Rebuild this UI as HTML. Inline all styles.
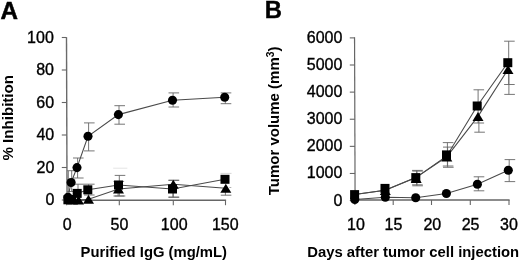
<!DOCTYPE html>
<html><head><meta charset="utf-8"><style>
html,body{margin:0;padding:0;background:#fff;}
svg{display:block;font-family:"Liberation Sans",sans-serif;will-change:transform;}
</style></head><body>
<svg width="520" height="262" viewBox="0 0 520 262">
<rect width="520" height="262" fill="#fff"/>
<line x1="66.50" y1="37.30" x2="67.05" y2="200.80" stroke="#6a6a6a" stroke-width="1.4"/>
<line x1="65.90" y1="200.30" x2="226.10" y2="200.30" stroke="#666" stroke-width="1.5"/>
<line x1="61.80" y1="200.00" x2="67.15" y2="200.00" stroke="#666" stroke-width="1.1"/>
<text x="54.53" y="205.40" font-size="16" text-anchor="end" stroke="#000" stroke-width="0.35">0</text>
<line x1="61.80" y1="167.50" x2="67.04" y2="167.50" stroke="#666" stroke-width="1.1"/>
<text x="54.39" y="172.90" font-size="16" text-anchor="end" stroke="#000" stroke-width="0.35">20</text>
<line x1="61.80" y1="135.00" x2="66.93" y2="135.00" stroke="#666" stroke-width="1.1"/>
<text x="54.24" y="140.40" font-size="16" text-anchor="end" stroke="#000" stroke-width="0.35">40</text>
<line x1="61.80" y1="102.50" x2="66.82" y2="102.50" stroke="#666" stroke-width="1.1"/>
<text x="54.09" y="107.90" font-size="16" text-anchor="end" stroke="#000" stroke-width="0.35">60</text>
<line x1="61.80" y1="70.00" x2="66.71" y2="70.00" stroke="#666" stroke-width="1.1"/>
<text x="53.95" y="75.40" font-size="16" text-anchor="end" stroke="#000" stroke-width="0.35">80</text>
<line x1="61.80" y1="37.50" x2="66.60" y2="37.50" stroke="#666" stroke-width="1.1"/>
<text x="53.80" y="42.90" font-size="16" text-anchor="end" stroke="#000" stroke-width="0.35">100</text>
<line x1="66.60" y1="200.30" x2="66.60" y2="205.20" stroke="#666" stroke-width="1.1"/>
<text x="67.30" y="229.70" font-size="16" text-anchor="middle" stroke="#000" stroke-width="0.35">0</text>
<line x1="119.30" y1="200.30" x2="119.30" y2="205.20" stroke="#666" stroke-width="1.1"/>
<text x="119.40" y="229.70" font-size="16" text-anchor="middle" stroke="#000" stroke-width="0.35">50</text>
<line x1="173.30" y1="200.30" x2="173.30" y2="205.20" stroke="#666" stroke-width="1.1"/>
<text x="174.20" y="229.70" font-size="16" text-anchor="middle" stroke="#000" stroke-width="0.35">100</text>
<line x1="225.50" y1="200.30" x2="225.50" y2="205.20" stroke="#666" stroke-width="1.1"/>
<text x="225.30" y="229.70" font-size="16" text-anchor="middle" stroke="#000" stroke-width="0.35">150</text>
<line x1="71.70" y1="170.70" x2="71.70" y2="191.50" stroke="#666" stroke-width="0.9"/>
<line x1="67.10" y1="170.70" x2="77.70" y2="170.70" stroke="#666" stroke-width="0.9"/>
<line x1="67.10" y1="191.50" x2="77.70" y2="191.50" stroke="#666" stroke-width="0.9"/>
<line x1="77.60" y1="158.00" x2="77.60" y2="178.00" stroke="#666" stroke-width="0.9"/>
<line x1="73.00" y1="158.00" x2="83.60" y2="158.00" stroke="#666" stroke-width="0.9"/>
<line x1="73.00" y1="178.00" x2="83.60" y2="178.00" stroke="#666" stroke-width="0.9"/>
<line x1="88.60" y1="122.90" x2="88.60" y2="150.90" stroke="#666" stroke-width="0.9"/>
<line x1="84.00" y1="122.90" x2="94.60" y2="122.90" stroke="#666" stroke-width="0.9"/>
<line x1="84.00" y1="150.90" x2="94.60" y2="150.90" stroke="#666" stroke-width="0.9"/>
<line x1="119.00" y1="105.70" x2="119.00" y2="124.20" stroke="#666" stroke-width="0.9"/>
<line x1="114.40" y1="105.70" x2="125.00" y2="105.70" stroke="#666" stroke-width="0.9"/>
<line x1="114.40" y1="124.20" x2="125.00" y2="124.20" stroke="#666" stroke-width="0.9"/>
<line x1="173.10" y1="92.90" x2="173.10" y2="107.00" stroke="#666" stroke-width="0.9"/>
<line x1="168.50" y1="92.90" x2="179.10" y2="92.90" stroke="#666" stroke-width="0.9"/>
<line x1="168.50" y1="107.00" x2="179.10" y2="107.00" stroke="#666" stroke-width="0.9"/>
<line x1="225.30" y1="92.90" x2="225.30" y2="103.70" stroke="#666" stroke-width="0.9"/>
<line x1="220.70" y1="92.90" x2="231.30" y2="92.90" stroke="#666" stroke-width="0.9"/>
<line x1="220.70" y1="103.70" x2="231.30" y2="103.70" stroke="#666" stroke-width="0.9"/>
<line x1="78.00" y1="184.20" x2="78.00" y2="193.40" stroke="#666" stroke-width="0.9"/>
<line x1="73.40" y1="184.20" x2="84.00" y2="184.20" stroke="#666" stroke-width="0.9"/>
<line x1="88.60" y1="184.20" x2="88.60" y2="195.00" stroke="#666" stroke-width="0.9"/>
<line x1="84.00" y1="184.20" x2="94.60" y2="184.20" stroke="#666" stroke-width="0.9"/>
<line x1="84.00" y1="195.00" x2="94.60" y2="195.00" stroke="#666" stroke-width="0.9"/>
<line x1="119.30" y1="175.40" x2="119.30" y2="196.00" stroke="#666" stroke-width="0.9"/>
<line x1="114.70" y1="175.40" x2="125.30" y2="175.40" stroke="#666" stroke-width="0.9"/>
<line x1="114.70" y1="196.00" x2="125.30" y2="196.00" stroke="#666" stroke-width="0.9"/>
<line x1="173.30" y1="180.30" x2="173.30" y2="197.20" stroke="#666" stroke-width="0.9"/>
<line x1="168.70" y1="180.30" x2="179.30" y2="180.30" stroke="#666" stroke-width="0.9"/>
<line x1="168.70" y1="197.20" x2="179.30" y2="197.20" stroke="#666" stroke-width="0.9"/>
<line x1="118.10" y1="181.40" x2="118.10" y2="196.00" stroke="#666" stroke-width="0.9"/>
<line x1="113.50" y1="181.40" x2="124.10" y2="181.40" stroke="#666" stroke-width="0.9"/>
<line x1="113.50" y1="196.00" x2="124.10" y2="196.00" stroke="#666" stroke-width="0.9"/>
<line x1="172.90" y1="180.30" x2="172.90" y2="197.20" stroke="#666" stroke-width="0.9"/>
<line x1="168.30" y1="180.30" x2="178.90" y2="180.30" stroke="#666" stroke-width="0.9"/>
<line x1="168.30" y1="197.20" x2="178.90" y2="197.20" stroke="#666" stroke-width="0.9"/>
<line x1="225.40" y1="188.30" x2="225.40" y2="195.20" stroke="#666" stroke-width="0.9"/>
<line x1="220.80" y1="195.20" x2="231.40" y2="195.20" stroke="#666" stroke-width="0.9"/>
<line x1="113.20" y1="168.20" x2="127.30" y2="168.20" stroke="#ddd" stroke-width="0.8"/>
<line x1="68.30" y1="171.00" x2="68.30" y2="192.00" stroke="#666" stroke-width="0.9"/>
<line x1="229.30" y1="187.50" x2="231.30" y2="187.50" stroke="#999" stroke-width="0.8"/>
<line x1="220.50" y1="173.40" x2="231.50" y2="173.40" stroke="#ccc" stroke-width="0.8"/>
<polyline points="68.00,197.20 71.10,182.50 77.00,167.60 88.00,136.30 118.40,114.60 172.50,100.20 224.70,97.20" fill="none" stroke="#4a4a4a" stroke-width="1.1"/>
<polyline points="67.90,199.80 71.50,199.50 77.20,193.40 87.80,189.80 118.50,185.00 172.50,189.00 225.00,179.30" fill="none" stroke="#4a4a4a" stroke-width="1.1"/>
<polyline points="72.50,200.00 78.50,200.00 88.50,199.20 118.50,189.00 173.30,184.30 225.80,188.30" fill="none" stroke="#4a4a4a" stroke-width="1.1"/>
<polygon points="72.50,195.50 78.00,204.50 67.00,204.50" fill="#000"/>
<polygon points="78.50,195.50 84.00,204.50 73.00,204.50" fill="#000"/>
<polygon points="88.50,194.70 94.00,203.70 83.00,203.70" fill="#000"/>
<polygon points="118.50,184.50 124.00,193.50 113.00,193.50" fill="#000"/>
<polygon points="173.30,179.80 178.80,188.80 167.80,188.80" fill="#000"/>
<polygon points="225.80,183.80 231.30,192.80 220.30,192.80" fill="#000"/>
<rect x="63.40" y="195.30" width="9" height="9" fill="#000"/>
<rect x="67.00" y="195.00" width="9" height="9" fill="#000"/>
<rect x="72.70" y="188.90" width="9" height="9" fill="#000"/>
<rect x="83.30" y="185.30" width="9" height="9" fill="#000"/>
<rect x="114.00" y="180.50" width="9" height="9" fill="#000"/>
<rect x="168.00" y="184.50" width="9" height="9" fill="#000"/>
<rect x="220.50" y="174.80" width="9" height="9" fill="#000"/>
<circle cx="68.00" cy="197.20" r="4.55" fill="#000"/>
<circle cx="71.10" cy="182.50" r="4.55" fill="#000"/>
<circle cx="77.00" cy="167.60" r="4.55" fill="#000"/>
<circle cx="88.00" cy="136.30" r="4.55" fill="#000"/>
<circle cx="118.40" cy="114.60" r="4.55" fill="#000"/>
<circle cx="172.50" cy="100.20" r="4.55" fill="#000"/>
<circle cx="224.70" cy="97.20" r="4.55" fill="#000"/>
<text x="0.50" y="19.00" font-size="24.2" text-anchor="start" font-weight="bold" stroke="#000" stroke-width="0.5">A</text>
<text x="80.50" y="256.50" font-size="14.5" text-anchor="start" font-weight="bold" textLength="146.5" lengthAdjust="spacingAndGlyphs">Purified IgG (mg/mL)</text>
<text transform="translate(12.5,160.5) rotate(-90)" font-size="15" font-weight="bold" textLength="85.5" lengthAdjust="spacingAndGlyphs">% Inhibition</text>
<line x1="354.55" y1="37.30" x2="355.10" y2="200.70" stroke="#666" stroke-width="1.2"/>
<line x1="354.30" y1="200.00" x2="509.60" y2="200.00" stroke="#666" stroke-width="1.4"/>
<line x1="349.80" y1="200.60" x2="355.16" y2="200.60" stroke="#666" stroke-width="1.1"/>
<text x="342.40" y="205.60" font-size="16" text-anchor="end" stroke="#000" stroke-width="0.35">0</text>
<line x1="349.80" y1="173.48" x2="355.06" y2="173.48" stroke="#666" stroke-width="1.1"/>
<text x="342.40" y="178.48" font-size="16" text-anchor="end" stroke="#000" stroke-width="0.35">1000</text>
<line x1="349.80" y1="146.36" x2="354.97" y2="146.36" stroke="#666" stroke-width="1.1"/>
<text x="342.40" y="151.36" font-size="16" text-anchor="end" stroke="#000" stroke-width="0.35">2000</text>
<line x1="349.80" y1="119.24" x2="354.88" y2="119.24" stroke="#666" stroke-width="1.1"/>
<text x="342.40" y="124.24" font-size="16" text-anchor="end" stroke="#000" stroke-width="0.35">3000</text>
<line x1="349.80" y1="92.12" x2="354.79" y2="92.12" stroke="#666" stroke-width="1.1"/>
<text x="342.40" y="97.12" font-size="16" text-anchor="end" stroke="#000" stroke-width="0.35">4000</text>
<line x1="349.80" y1="65.00" x2="354.70" y2="65.00" stroke="#666" stroke-width="1.1"/>
<text x="342.40" y="70.00" font-size="16" text-anchor="end" stroke="#000" stroke-width="0.35">5000</text>
<line x1="349.80" y1="37.88" x2="354.60" y2="37.88" stroke="#666" stroke-width="1.1"/>
<text x="342.40" y="42.88" font-size="16" text-anchor="end" stroke="#000" stroke-width="0.35">6000</text>
<line x1="354.90" y1="200.00" x2="354.90" y2="205.00" stroke="#666" stroke-width="1.1"/>
<text x="356.00" y="229.70" font-size="16" text-anchor="middle" stroke="#000" stroke-width="0.35">10</text>
<line x1="393.20" y1="200.00" x2="393.20" y2="205.00" stroke="#666" stroke-width="1.1"/>
<text x="393.50" y="229.70" font-size="16" text-anchor="middle" stroke="#000" stroke-width="0.35">15</text>
<line x1="431.50" y1="200.00" x2="431.50" y2="205.00" stroke="#666" stroke-width="1.1"/>
<text x="432.30" y="229.70" font-size="16" text-anchor="middle" stroke="#000" stroke-width="0.35">20</text>
<line x1="470.30" y1="200.00" x2="470.30" y2="205.00" stroke="#666" stroke-width="1.1"/>
<text x="470.60" y="229.70" font-size="16" text-anchor="middle" stroke="#000" stroke-width="0.35">25</text>
<line x1="509.00" y1="200.00" x2="509.00" y2="205.00" stroke="#666" stroke-width="1.1"/>
<text x="509.00" y="229.70" font-size="16" text-anchor="middle" stroke="#000" stroke-width="0.35">30</text>
<line x1="478.30" y1="176.80" x2="478.30" y2="190.80" stroke="#666" stroke-width="0.9"/>
<line x1="473.70" y1="176.80" x2="484.30" y2="176.80" stroke="#666" stroke-width="0.9"/>
<line x1="473.70" y1="190.80" x2="484.30" y2="190.80" stroke="#666" stroke-width="0.9"/>
<line x1="509.20" y1="159.60" x2="509.20" y2="181.60" stroke="#666" stroke-width="0.9"/>
<line x1="504.60" y1="159.60" x2="515.20" y2="159.60" stroke="#666" stroke-width="0.9"/>
<line x1="504.60" y1="181.60" x2="515.20" y2="181.60" stroke="#666" stroke-width="0.9"/>
<line x1="416.70" y1="170.40" x2="416.70" y2="184.80" stroke="#666" stroke-width="0.9"/>
<line x1="412.10" y1="170.40" x2="422.70" y2="170.40" stroke="#666" stroke-width="0.9"/>
<line x1="412.10" y1="184.80" x2="422.70" y2="184.80" stroke="#666" stroke-width="0.9"/>
<line x1="447.40" y1="142.60" x2="447.40" y2="166.00" stroke="#666" stroke-width="0.9"/>
<line x1="442.80" y1="142.60" x2="453.40" y2="142.60" stroke="#666" stroke-width="0.9"/>
<line x1="442.80" y1="166.00" x2="453.40" y2="166.00" stroke="#666" stroke-width="0.9"/>
<line x1="478.10" y1="89.80" x2="478.10" y2="123.00" stroke="#666" stroke-width="0.9"/>
<line x1="473.50" y1="89.80" x2="484.10" y2="89.80" stroke="#666" stroke-width="0.9"/>
<line x1="473.50" y1="123.00" x2="484.10" y2="123.00" stroke="#666" stroke-width="0.9"/>
<line x1="508.70" y1="41.20" x2="508.70" y2="84.50" stroke="#666" stroke-width="0.9"/>
<line x1="504.10" y1="41.20" x2="514.70" y2="41.20" stroke="#666" stroke-width="0.9"/>
<line x1="504.10" y1="84.50" x2="514.70" y2="84.50" stroke="#666" stroke-width="0.9"/>
<line x1="416.90" y1="171.10" x2="416.90" y2="185.80" stroke="#666" stroke-width="0.9"/>
<line x1="412.30" y1="171.10" x2="422.90" y2="171.10" stroke="#666" stroke-width="0.9"/>
<line x1="412.30" y1="185.80" x2="422.90" y2="185.80" stroke="#666" stroke-width="0.9"/>
<line x1="447.60" y1="147.10" x2="447.60" y2="167.30" stroke="#666" stroke-width="0.9"/>
<line x1="443.00" y1="147.10" x2="453.60" y2="147.10" stroke="#666" stroke-width="0.9"/>
<line x1="443.00" y1="167.30" x2="453.60" y2="167.30" stroke="#666" stroke-width="0.9"/>
<line x1="478.90" y1="116.40" x2="478.90" y2="132.20" stroke="#666" stroke-width="0.9"/>
<line x1="474.30" y1="132.20" x2="484.90" y2="132.20" stroke="#666" stroke-width="0.9"/>
<line x1="508.90" y1="69.50" x2="508.90" y2="94.40" stroke="#666" stroke-width="0.9"/>
<line x1="504.30" y1="94.40" x2="514.90" y2="94.40" stroke="#666" stroke-width="0.9"/>
<polyline points="354.80,199.50 385.30,197.20 415.70,197.70 446.40,193.50 477.40,184.30 508.30,170.20" fill="none" stroke="#4a4a4a" stroke-width="1.1"/>
<polyline points="354.60,194.50 385.10,190.30 415.90,177.60 446.60,156.20 477.20,106.00 507.80,62.70" fill="none" stroke="#4a4a4a" stroke-width="1.1"/>
<polyline points="354.60,194.50 385.10,190.30 415.90,177.60 446.80,156.80 478.00,116.40 508.00,69.50" fill="none" stroke="#4a4a4a" stroke-width="1.1"/>
<polygon points="385.30,186.00 390.80,195.00 379.80,195.00" fill="#000"/>
<polygon points="416.20,174.00 421.70,183.00 410.70,183.00" fill="#000"/>
<polygon points="446.80,152.50 452.30,161.50 441.30,161.50" fill="#000"/>
<polygon points="478.00,111.90 483.50,120.90 472.50,120.90" fill="#000"/>
<polygon points="508.00,65.00 513.50,74.00 502.50,74.00" fill="#000"/>
<rect x="350.10" y="190.10" width="9" height="9" fill="#000"/>
<rect x="380.50" y="183.90" width="9" height="9" fill="#000"/>
<rect x="411.30" y="173.10" width="9" height="9" fill="#000"/>
<rect x="442.00" y="150.40" width="9" height="9" fill="#000"/>
<rect x="472.70" y="101.50" width="9" height="9" fill="#000"/>
<rect x="503.30" y="58.20" width="9" height="9" fill="#000"/>
<circle cx="354.80" cy="199.50" r="4.55" fill="#000"/>
<circle cx="385.30" cy="197.20" r="4.55" fill="#000"/>
<circle cx="415.70" cy="197.70" r="4.55" fill="#000"/>
<circle cx="446.40" cy="193.50" r="4.55" fill="#000"/>
<circle cx="477.40" cy="184.30" r="4.55" fill="#000"/>
<circle cx="508.30" cy="170.20" r="4.55" fill="#000"/>
<text x="264.80" y="17.60" font-size="23.8" text-anchor="start" font-weight="bold" stroke="#000" stroke-width="0.4">B</text>
<text x="307.20" y="256.50" font-size="14.5" text-anchor="start" font-weight="bold" textLength="212" lengthAdjust="spacingAndGlyphs">Days after tumor cell injection</text>
<text transform="translate(278.8,195.3) rotate(-90) scale(1.035,1)" font-size="14.5" font-weight="bold">Tumor volume (mm<tspan font-size="10" dy="-5.1">3</tspan><tspan dy="5.1">)</tspan></text>
</svg>
</body></html>
